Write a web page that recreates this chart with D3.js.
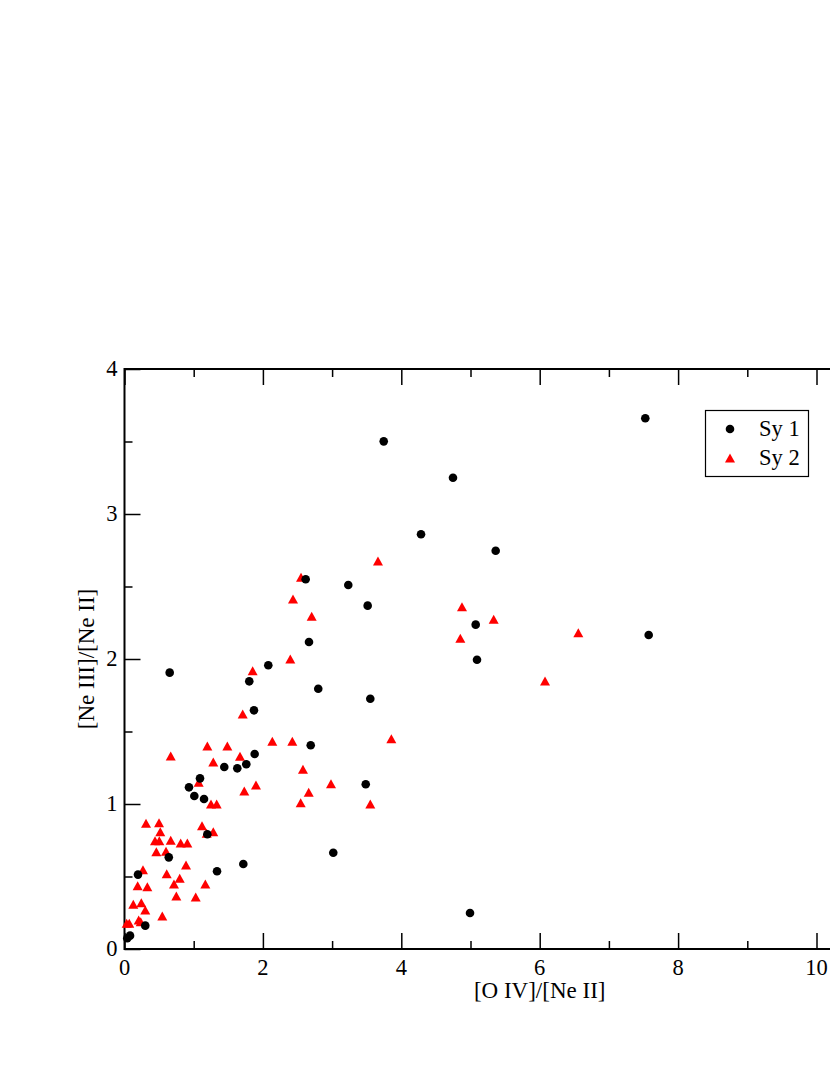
<!DOCTYPE html>
<html>
<head>
<meta charset="utf-8">
<script src="https://cdn.jsdelivr.net/npm/d3@7"></script>
<style>
  html, body { margin: 0; padding: 0; background: #fff; }
  svg { display: block; }
</style>
</head>
<body>
<svg id="chart" width="830" height="1075"></svg>
<script>
// ---- data ----
const sy1X = [0.04, 0.08, 0.30, 0.195, 0.64, 1.337, 1.717, 1.197, 1.149, 1.009, 0.932, 1.091, 1.442, 1.630, 1.760, 1.881, 2.691, 1.871, 2.80, 1.803, 2.078, 0.653, 2.666, 2.618, 3.234, 3.514, 3.552, 3.486, 3.017, 3.746, 4.747, 4.285, 5.364, 5.075, 5.094, 7.526, 7.575, 4.993];
const sy1Y = [0.074, 0.092, 0.161, 0.513, 0.632, 0.536, 0.586, 0.791, 1.034, 1.055, 1.115, 1.177, 1.255, 1.246, 1.274, 1.345, 1.405, 1.646, 1.795, 1.846, 1.957, 1.906, 2.117, 2.55, 2.51, 2.368, 1.726, 1.136, 0.664, 3.501, 3.25, 2.86, 2.747, 2.237, 1.995, 3.66, 2.166, 0.248];

const sy2X = [0.311, 0.499, 0.517, 1.12, 1.188, 1.283, 0.441, 0.503, 0.668, 0.812, 0.908, 0.46, 0.60, 0.889, 0.267, 0.61, 0.798, 0.19, 0.33, 0.715, 1.168, 0.749, 1.029, 0.127, 0.243, 0.30, 0.546, 0.032, 0.069, 0.205, 0.234,
  2.396, 1.852, 1.708, 1.197, 1.486, 2.136, 2.425, 0.668, 1.283, 1.669, 2.579, 1.072, 1.731, 1.90, 2.984, 2.662, 2.546, 1.25, 1.332,
  3.663, 2.551, 2.435, 2.705, 3.856, 3.552, 4.877, 5.335, 4.853, 6.077, 6.558];
const sy2Y = [0.867, 0.871, 0.809, 0.85, 0.798, 0.809, 0.747, 0.747, 0.75, 0.731, 0.731, 0.671, 0.674, 0.579, 0.547, 0.519, 0.488, 0.437, 0.43, 0.448, 0.448, 0.366, 0.359, 0.309, 0.319, 0.269, 0.228, 0.177, 0.177, 0.20, 0.188,
  2.0, 1.919, 1.621, 1.40, 1.40, 1.432, 1.432, 1.331, 1.29, 1.329, 1.239, 1.150, 1.090, 1.131, 1.14, 1.081, 1.009, 1.0, 1.0,
  2.676, 2.563, 2.414, 2.294, 1.45, 1.0, 2.361, 2.274, 2.143, 1.848, 2.181];

const xTicks = [0, 2, 4, 6, 8, 10];
const xMinor = [1, 3, 5, 7, 9, 11];
const yTicks = [0, 1, 2, 3, 4];
const yMinor = [0.5, 1.5, 2.5, 3.5];
const seriesNames = ["Sy 1", "Sy 2"];
const xTitle = "[O IV]/[Ne II]";
const yTitle = "[Ne III]/[Ne II]";

const FONT = "'Liberation Serif', 'DejaVu Serif', 'Times New Roman', Times, serif";

// ---- layout ----
const svg = d3.select("#chart");
const x = d3.scaleLinear().domain([0, 12]).range([124.5, 954.9]);
const y = d3.scaleLinear().domain([0, 4]).range([949, 369]);

const g = svg.append("g");

// frame
g.append("rect")
  .attr("x", x(0)).attr("y", y(4))
  .attr("width", x(12) - x(0)).attr("height", y(0) - y(4))
  .attr("fill", "none").attr("stroke", "#000").attr("stroke-width", 2);

const majorLen = 16, minorLen = 8;
function tickGroup(axis, tf) {
  g.append("g").attr("transform", tf).call(axis)
    .call(s => s.select(".domain").remove())
    .call(s => s.selectAll("line").attr("stroke-width", 1.5));
}
tickGroup(d3.axisTop(x).tickValues(xTicks).tickSize(majorLen).tickFormat(""), `translate(0,${y(0)})`);
tickGroup(d3.axisTop(x).tickValues(xMinor).tickSize(minorLen).tickFormat(""), `translate(0,${y(0)})`);
tickGroup(d3.axisBottom(x).tickValues(xTicks).tickSize(majorLen).tickFormat(""), `translate(0,${y(4)})`);
tickGroup(d3.axisBottom(x).tickValues(xMinor).tickSize(minorLen).tickFormat(""), `translate(0,${y(4)})`);
tickGroup(d3.axisRight(y).tickValues(yTicks).tickSize(majorLen).tickFormat(""), `translate(${x(0)},0)`);
tickGroup(d3.axisRight(y).tickValues(yMinor).tickSize(minorLen).tickFormat(""), `translate(${x(0)},0)`);

// tick labels
g.selectAll("text.xl").data(xTicks).enter().append("text")
  .attr("class", "xl")
  .attr("x", d => x(d)).attr("y", y(0) + 26)
  .attr("text-anchor", "middle").attr("font-size", 22.5)
  .attr("font-family", FONT).attr("fill", "#000")
  .text(d => d);
g.selectAll("text.yl").data(yTicks).enter().append("text")
  .attr("class", "yl")
  .attr("x", x(0) - 7).attr("y", d => y(d) + 7)
  .attr("text-anchor", "end").attr("font-size", 22.5)
  .attr("font-family", FONT).attr("fill", "#000")
  .text(d => d);

// axis titles
g.append("text").attr("x", x(6)).attr("y", 998)
  .attr("text-anchor", "middle").attr("font-size", 23)
  .attr("font-family", FONT).attr("fill", "#000").text(xTitle);
g.append("text").attr("transform", `translate(94,${(y(0) + y(4)) / 2}) rotate(-90)`)
  .attr("text-anchor", "middle").attr("font-size", 23)
  .attr("font-family", FONT).attr("fill", "#000").text(yTitle);

// markers
const triPath = (cx, cy) => {
  const w = 10, h = 9;
  return `M${cx - w / 2},${cy + h / 2}L${cx + w / 2},${cy + h / 2}L${cx},${cy - h / 2}Z`;
};
const sy2 = sy2X.map((d, i) => ({ x: d, y: sy2Y[i] }));
const sy1 = sy1X.map((d, i) => ({ x: d, y: sy1Y[i] }));

g.selectAll("path.tri").data(sy2).enter().append("path")
  .attr("class", "tri")
  .attr("d", d => triPath(x(d.x), y(d.y)))
  .attr("fill", "#ff0000");
g.selectAll("circle.dot").data(sy1).enter().append("circle")
  .attr("class", "dot")
  .attr("cx", d => x(d.x)).attr("cy", d => y(d.y)).attr("r", 4.3)
  .attr("fill", "#000");

// legend
const lg = g.append("g");
lg.append("rect").attr("x", 705.5).attr("y", 410.5).attr("width", 103).attr("height", 66)
  .attr("fill", "#fff").attr("stroke", "#000").attr("stroke-width", 1.2);
lg.append("circle").attr("cx", 730).attr("cy", 429).attr("r", 4.3).attr("fill", "#000");
lg.append("path").attr("d", triPath(730, 458)).attr("fill", "#ff0000");
lg.append("text").attr("x", 759).attr("y", 436).attr("font-size", 22.5)
  .attr("font-family", FONT).attr("fill", "#000").text(seriesNames[0]);
lg.append("text").attr("x", 759).attr("y", 465).attr("font-size", 22.5)
  .attr("font-family", FONT).attr("fill", "#000").text(seriesNames[1]);
</script>
</body>
</html>
